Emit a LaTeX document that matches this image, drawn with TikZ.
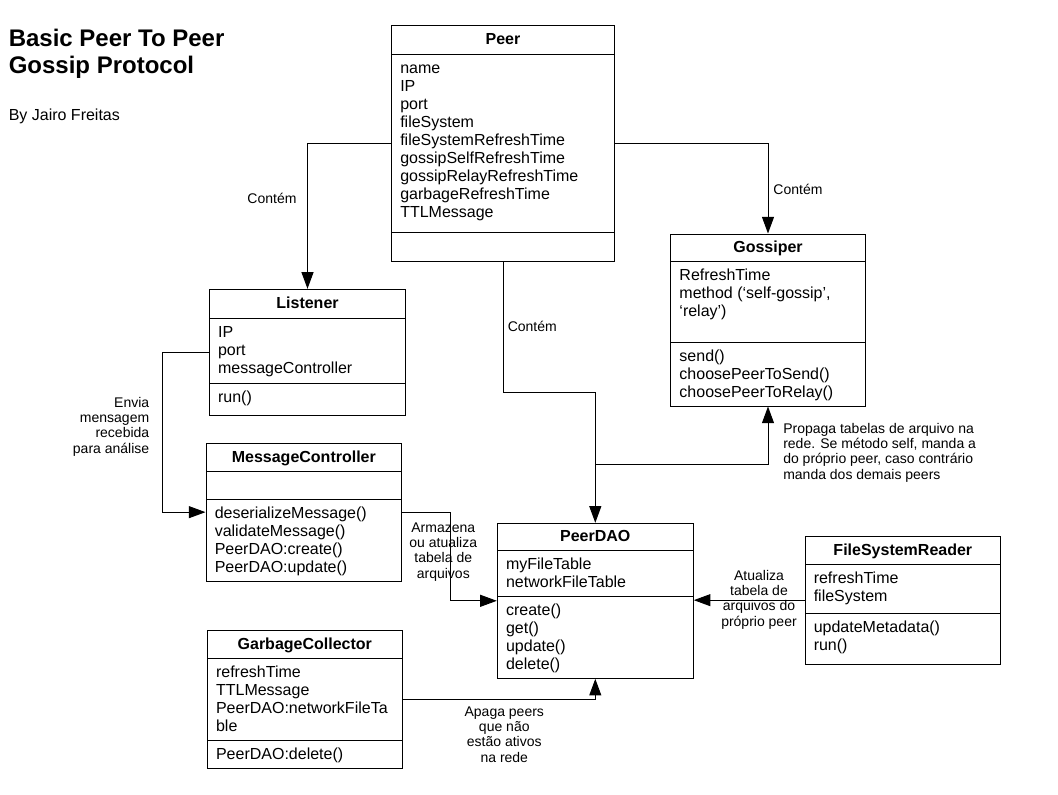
\documentclass[tikz,border=0pt]{standalone}
\usepackage{fontspec}
\setmainfont{Liberation Sans}
\usetikzlibrary{arrows.meta}
\tikzset{
  classbox/.style={draw, line width=0.75pt, inner sep=0pt, rectangle},
  divider/.style={line width=0.75pt},
  classtitle/.style={anchor=base, inner sep=0pt, font=\fontsize{12}{13.5}\selectfont\bfseries},
  members/.style={anchor=north west, inner sep=0pt, align=left, font=\fontsize{12}{13.5}\selectfont},
  conn/.style={line width=0.75pt, -{Triangle[length=12.5pt,width=9pt]}},
  lbl/.style={inner sep=0pt, font=\fontsize{10.5}{11.5}\selectfont},
}
\newcommand\umlclass[8]{%
  \node[classbox, minimum width={(#4-#2)*0.75pt}, minimum height={(#5-#3)*0.75pt}] (#1) at ({(#2+#4)/2},{(#3+#5)/2}) {};
  \node[classtitle] (#1-title) at ({(#2+#4)/2},{(#3+#7)/2+5}) {#6};
  \draw[divider] (#2,#7) -- (#4,#7);
  \draw[divider] (#2,#8) -- (#4,#8);
}
\begin{document}
\begin{tikzpicture}[x=0.75pt, y=-0.75pt]
\fill[white] (0,0) rectangle (1058,794);
\useasboundingbox (0,0) rectangle (1058,794);

% title
\node[anchor=north west, inner sep=0pt, align=left, font=\fontsize{18}{20}\selectfont\bfseries] (title) at (8.5,28) {\strut Basic Peer To Peer\\Gossip Protocol};
\node[anchor=base west, inner sep=0pt, font=\fontsize{12}{14}\selectfont] (author) at (8.5,120) {By Jairo Freitas};

% classes
\umlclass{peer}{391.5}{25.5}{614.5}{261}{Peer}{54}{232}
\node[members] (peer-attr) at (400,60.4) {\strut name\\IP\\port\\fileSystem\\fileSystemRefreshTime\\gossipSelfRefreshTime\\gossipRelayRefreshTime\\garbageRefreshTime\\TTLMessage};

\umlclass{listener}{209.3}{289.3}{405.7}{415}{Listener}{318.3}{383.7}
\node[members] (listener-attr) at (217.8,324.7) {\strut IP\\port\\messageController};
\node[members] (listener-meth) at (217.8,390.1) {\strut run()};

\umlclass{msgctl}{206}{443.3}{401.7}{581}{MessageController}{471.7}{499.7}
\node[members] (msgctl-meth) at (214.5,506.1) {\strut deserializeMessage()\\validateMessage()\\PeerDAO:create()\\PeerDAO:update()};

\umlclass{gossiper}{670.7}{234}{865.3}{406}{Gossiper}{261.7}{342.3}
\node[members] (gossiper-attr) at (679.2,268.1) {\strut RefreshTime\\method (‘self-gossip’,\\‘relay’)};
\node[members] (gossiper-meth) at (679.2,348.7) {\strut send()\\choosePeerToSend()\\choosePeerToRelay()};

\umlclass{peerdao}{497.3}{523.3}{693.3}{678.3}{PeerDAO}{550.3}{596.7}
\node[members] (peerdao-attr) at (505.8,556.7) {\strut myFileTable\\networkFileTable};
\node[members] (peerdao-meth) at (505.8,603.1) {\strut create()\\get()\\update()\\delete()};

\umlclass{fsr}{805}{536}{1000.7}{664.3}{FileSystemReader}{564}{613.3}
\node[members] (fsr-attr) at (813.5,570.4) {\strut refreshTime\\fileSystem};
\node[members] (fsr-meth) at (813.5,619.7) {\strut updateMetadata()\\run()};

\umlclass{gc}{207.3}{630.7}{402.3}{768}{GarbageCollector}{658}{740.7}
\node[members] (gc-attr) at (215.8,664.4) {\strut refreshTime\\TTLMessage\\PeerDAO:networkFileTa\\ble};
\node[members] (gc-meth) at (215.8,747.1) {\strut PeerDAO:delete()};

% connectors
\draw[conn] (peer.west) -| (listener.north);
\draw[conn] (peer.east) -| (gossiper.north);
\draw[conn] (peer.south) -- ++(0,131) -| (peerdao.north);
\coordinate (fork) at (peerdao.north |- 0,464.3);
\draw[conn] (fork) -| (gossiper.south);
\draw[conn] (listener.west) -- ++(-46,0) |- (msgctl.west);
\draw[conn] (msgctl.east) -- ++(48.5,0) |- (peerdao.west);
\draw[conn] (fsr.west) -- (peerdao.east |- fsr.west);
\draw[conn] (gc.east) -| (peerdao.south);

% labels
\node[lbl, anchor=north] (lbl-contem1) at (272,192) {\strut Contém};
\node[lbl, anchor=north west] (lbl-contem2) at (507.5,320) {\strut Contém};
\node[lbl, anchor=north] (lbl-contem3) at (798,183.8) {\strut Contém};
\node[lbl, anchor=north east, align=right] (lbl-envia) at (149.5,396) {\strut Envia\\mensagem\\recebida\\para análise};
\node[lbl, anchor=north, align=center] (lbl-armazena) at (443.3,521) {\strut Armazena\\ou atualiza\\tabela de\\arquivos};
\node[lbl, anchor=north, align=center] (lbl-atualiza) at (759,569.3) {\strut Atualiza\\tabela de\\arquivos do\\próprio peer};
\node[lbl, anchor=north, align=center] (lbl-apaga) at (504.3,705) {\strut Apaga peers\\que não\\estão ativos\\na rede};
\node[lbl, anchor=north west, align=left] (lbl-propaga) at (783,422) {\strut Propaga tabelas de arquivo na\\rede. Se método self, manda a\\do próprio peer, caso contrário\\manda dos demais peers};
\end{tikzpicture}
\end{document}
